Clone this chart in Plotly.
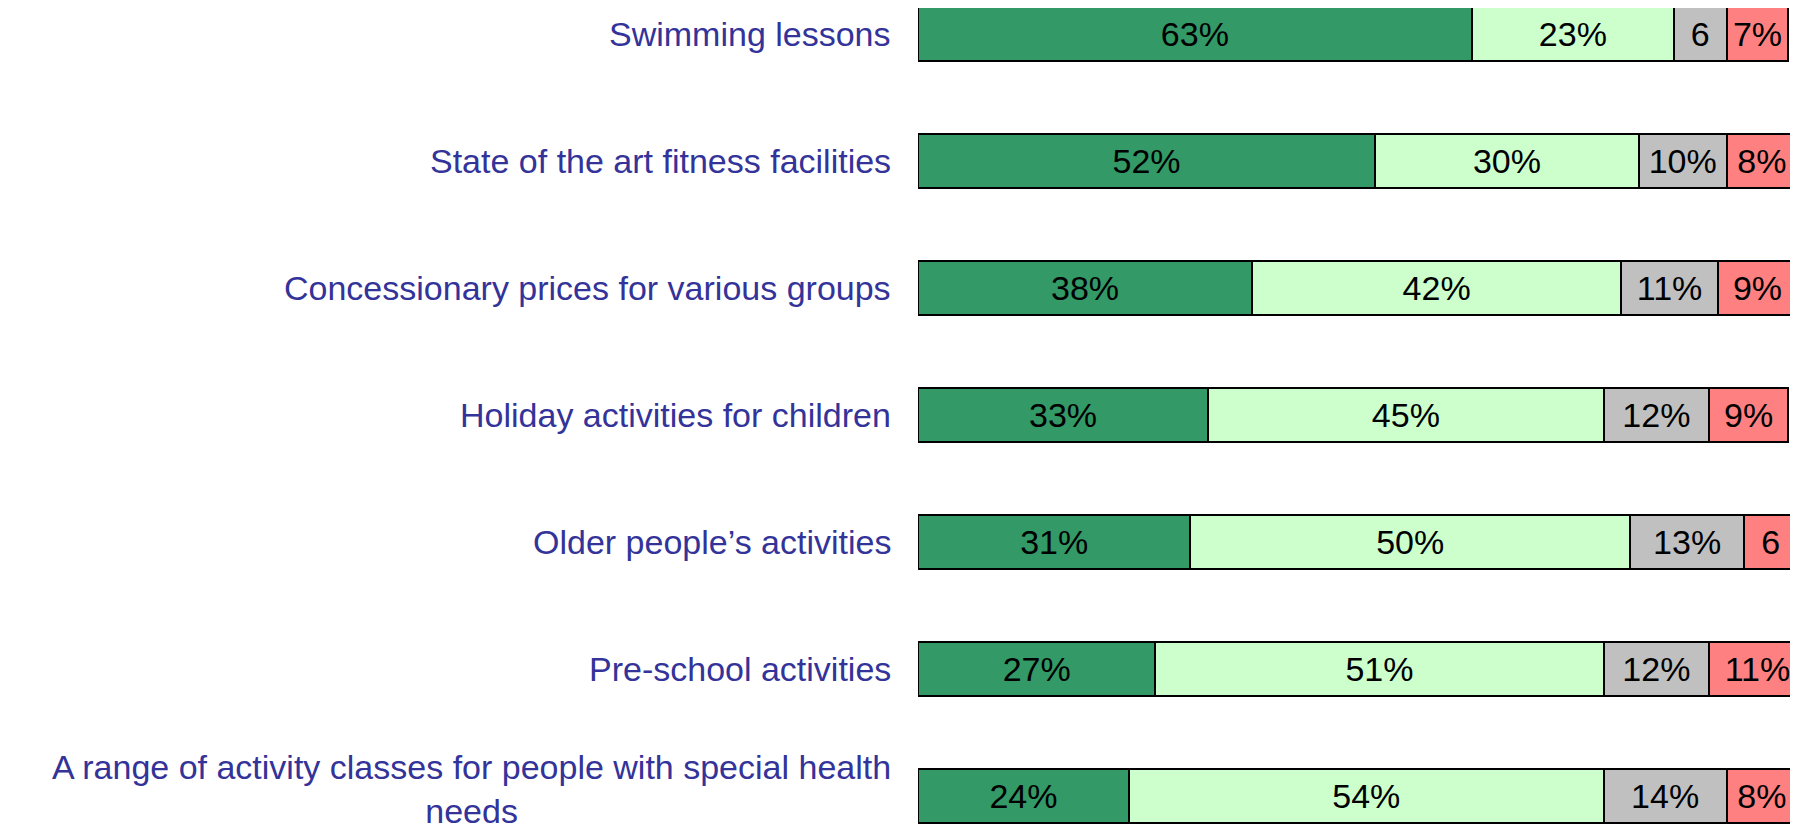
import plotly.graph_objects as go

categories = [
    "Swimming lessons",
    "State of the art fitness facilities",
    "Concessionary prices for various groups",
    "Holiday activities for children",
    "Older people\u2019s activities",
    "Pre-school activities",
    "A range of activity classes for people with special health<br>needs",
]
series_names = ["Very important", "Fairly important", "Don't know", "Not important"]
very_important = [63, 52, 38, 33, 31, 27, 24]
fairly_important = [23, 30, 42, 45, 50, 51, 54]
dont_know = [6, 10, 11, 12, 13, 12, 14]
not_important = [7, 8, 9, 9, 6, 11, 8]
labels_very = ["63%", "52%", "38%", "33%", "31%", "27%", "24%"]
labels_fairly = ["23%", "30%", "42%", "45%", "50%", "51%", "54%"]
labels_dk = ["6", "10%", "11%", "12%", "13%", "12%", "14%"]
labels_not = ["7%", "8%", "9%", "9%", "6", "11%", "8%"]
colors = ["#339966", "#CCFFCC", "#C0C0C0", "#FF8080"]

values = [very_important, fairly_important, dont_know, not_important]
texts = [labels_very, labels_fairly, labels_dk, labels_not]

FONT = "Liberation Sans, Arial, sans-serif"

fig = go.Figure()
for name, vals, txt, col in zip(series_names, values, texts, colors):
    fig.add_trace(go.Bar(
        y=categories, x=vals, orientation="h", name=name,
        marker=dict(color=col, line=dict(color="black", width=2)),
        text=txt, textposition="inside", insidetextanchor="middle",
        textangle=0, constraintext="none",
        textfont=dict(family=FONT, size=34, color="black"),
        width=0.433, hoverinfo="x+y+name",
    ))

for i, c in enumerate(categories):
    fig.add_annotation(
        x=-0.0284, xref="paper", y=c, yref="y", xanchor="right", yanchor="middle",
        text=c, showarrow=False, align="center",
        yshift=7 if "<br>" in c else 0,
        font=dict(family=FONT, size=34, color="#333399"),
    )

fig.update_layout(
    barmode="stack", width=1790, height=824,
    margin=dict(l=910, r=1, t=0, b=0),
    paper_bgcolor="white", plot_bgcolor="white", showlegend=False,
    xaxis=dict(range=[0, 100], visible=False, fixedrange=True),
    yaxis=dict(categoryorder="array", categoryarray=categories,
               range=[6.2835, -0.2047], visible=False, fixedrange=True),
)
fig.write_html("out.html")
